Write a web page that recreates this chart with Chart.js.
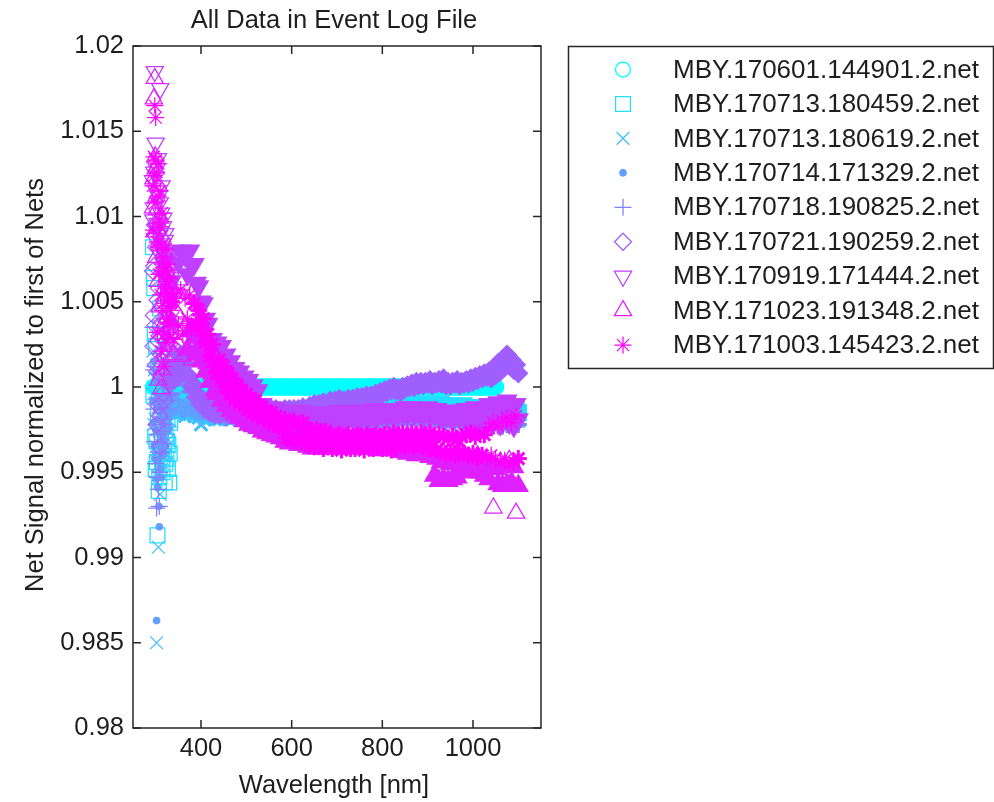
<!DOCTYPE html>
<html><head><meta charset="utf-8">
<script src="https://cdn.jsdelivr.net/npm/chart.js@4.4.1/dist/chart.umd.min.js"></script>
<style>html,body{margin:0;padding:0;background:#fff;}canvas{display:block;}</style>
</head><body>
<canvas id="c" width="994" height="802"></canvas>
<script>
// ---------- DATA ----------
const wavelength = [
294,295,296,297,298,299,300,301,302,303,
304,305,306,307,308,309,310,311,312,313,
314,315,316,317,318,319,320,321,322,323,
324,325,326,327,328,329,330,331,332,333,
335,340,345,350,355,360,365,370,375,380,
385,390,395,400,405,410,415,420,425,430,
435,440,445,450,455,460,465,470,475,480,
485,490,495,500,505,510,515,520,525,530,
535,540,545,550,555,560,565,570,575,580,
585,590,595,600,605,610,615,620,625,630,
635,640,645,650,655,660,665,670,675,680,
685,690,695,700,705,710,715,720,725,730,
735,740,745,750,755,760,765,770,775,780,
785,790,795,800,805,810,815,820,825,830,
835,840,845,850,855,860,865,870,875,880,
885,890,895,900,905,910,915,920,925,930,
935,940,945,950,955,960,965,970,975,980,
985,990,995,1000,1005,1010,1015,1020,1025,1030,
1035,1040,1045,1050,1055,1060,1065,1070,1075,1080,
1085,1090,1095,1100];

const net170601_144901 = [
1,1,1,1,1,1,1,1,1,1, 1,1,1,1,1,1,1,1,1,1,
1,1,1,1,1,1,1,1,1,1, 1,1,1,1,1,1,1,1,1,1,
1,1,1,1,1,1,1,1,1,1, 1,1,1,1,1,1,1,1,1,1,
1,1,1,1,1,1,1,1,1,1, 1,1,1,1,1,1,1,1,1,1,
1,1,1,1,1,1,1,1,1,1, 1,1,1,1,1,1,1,1,1,1,
1,1,1,1,1,1,1,1,1,1, 1,1,1,1,1,1,1,1,1,1,
1,1,1,1,1,1,1,1,1,1, 1,1,1,1,1,1,1,1,1,1,
1,1,1,1,1,1,1,1,1,1, 1,1,1,1,1,1,1,1,1,1,
1,1,1,1,1,1,1,1,1,1, 1,1,1,1,1,1,1,1,1,1,
1,1,1,1];

const net170713_180459 = [
1.0082,0.9995,1.0064,1.0058,1.0031,0.9971,0.9952,1.0024,0.9968,0.9956,
0.9913,0.9985,1.0012,0.9939,0.9947,1.0003,1.0046,0.9961,0.9975,0.9992,
0.9958,0.9950,0.9989,0.9977,0.9962,0.9985,0.9944,0.9955,0.9971,0.9990,
0.9958,0.9968,0.9981,0.9952,0.9966,0.9986,0.9944,0.9961,0.9979,0.9992,
0.9989,0.9994,0.9987,0.9993,0.9988,0.9992,0.9986,0.9991,0.9987,0.9990,
0.9986,0.9989,0.9985,0.9988,0.9984,0.9987,0.9983,0.9986,0.9984,0.9987,
0.9985,0.9983,0.9986,0.9984,0.9985,0.9983,0.9986,0.9984,0.9985,0.9983,
0.9984,0.9986,0.9983,0.9985,0.9984,0.9986,0.9983,0.9985,0.9984,0.9986,
0.9985,0.9983,0.9986,0.9984,0.9985,0.9983,0.9986,0.9984,0.9985,0.9983,
0.9984,0.9986,0.9983,0.9985,0.9984,0.9986,0.9983,0.9985,0.9984,0.9986,
0.9985,0.9983,0.9986,0.9984,0.9985,0.9983,0.9986,0.9984,0.9985,0.9983,
0.9986,0.9984,0.9987,0.9985,0.9986,0.9984,0.9987,0.9985,0.9986,0.9984,
0.9987,0.9985,0.9988,0.9986,0.9987,0.9985,0.9988,0.9986,0.9987,0.9985,
0.9988,0.9986,0.9989,0.9987,0.9988,0.9986,0.9989,0.9987,0.9988,0.9986,
0.9989,0.9987,0.9990,0.9988,0.9989,0.9987,0.9990,0.9988,0.9989,0.9987,
0.9988,0.9990,0.9987,0.9989,0.9988,0.9990,0.9987,0.9989,0.9988,0.9990,
0.9987,0.9989,0.9986,0.9988,0.9987,0.9989,0.9986,0.9988,0.9987,0.9989,
0.9986,0.9988,0.9985,0.9987,0.9986,0.9988,0.9985,0.9987,0.9986,0.9988,
0.9985,0.9988,0.9984,0.9987,0.9985,0.9989,0.9984,0.9987,0.9985,0.9988,
0.9986,0.9984,0.9987,0.9985];

const net170713_180619 = [
1.0021,0.9996,0.9978,1.0010,0.9962,0.9981,1.0005,0.9965,0.9850,0.9975,
0.9948,0.9958,0.9906,0.9993,0.9983,0.9949,0.9937,0.9978,0.9966,0.9952,
0.9991,0.9970,0.9955,0.9984,0.9972,0.9959,0.9988,0.9976,0.9961,0.9989,
0.9979,0.9965,0.9985,0.9981,0.9969,0.9990,0.9992,0.9974,0.9980,0.9986,
0.9986,0.9992,0.9984,0.9990,0.9985,0.9991,0.9983,0.9989,0.9984,0.9988,
0.9983,0.9987,0.9982,0.9978,0.9984,0.9981,0.9986,0.9982,0.9985,0.9981,
0.9984,0.9981,0.9985,0.9982,0.9984,0.9981,0.9983,0.9981,0.9984,0.9982,
0.9983,0.9981,0.9984,0.9982,0.9983,0.9981,0.9984,0.9982,0.9983,0.9981,
0.9982,0.9980,0.9983,0.9981,0.9982,0.9980,0.9983,0.9981,0.9982,0.9980,
0.9981,0.9983,0.9980,0.9982,0.9981,0.9983,0.9980,0.9982,0.9981,0.9983,
0.9982,0.9980,0.9983,0.9981,0.9982,0.9980,0.9983,0.9981,0.9982,0.9980,
0.9981,0.9983,0.9980,0.9982,0.9981,0.9983,0.9980,0.9982,0.9981,0.9983,
0.9982,0.9980,0.9983,0.9981,0.9982,0.9980,0.9983,0.9981,0.9982,0.9980,
0.9983,0.9981,0.9984,0.9982,0.9983,0.9981,0.9984,0.9982,0.9983,0.9981,
0.9984,0.9982,0.9985,0.9983,0.9984,0.9982,0.9985,0.9983,0.9984,0.9982,
0.9983,0.9985,0.9982,0.9984,0.9983,0.9985,0.9982,0.9984,0.9983,0.9985,
0.9982,0.9984,0.9981,0.9983,0.9982,0.9984,0.9981,0.9983,0.9982,0.9984,
0.9981,0.9983,0.9980,0.9982,0.9981,0.9983,0.9980,0.9982,0.9981,0.9983,
0.9980,0.9983,0.9979,0.9982,0.9980,0.9984,0.9979,0.9982,0.9980,0.9983,
0.9981,0.9979,0.9982,0.9980];

const net170714_171329 = [
0.9992,0.9979,1.0015,0.9966,0.9958,1.0004,0.9975,0.9946,0.9863,0.9988,
0.9941,0.9957,0.9967,0.9930,0.9918,0.9973,0.9952,0.9990,0.9981,0.9947,
0.9962,0.9978,0.9993,0.9960,0.9971,0.9987,0.9985,0.9969,0.9966,0.9981,
0.9995,0.9974,0.9978,0.9992,0.9989,0.9976,0.9983,0.9988,0.9996,0.9985,
0.9990,0.9985,0.9993,0.9987,0.9991,0.9984,0.9989,0.9986,0.9990,0.9984,
0.9988,0.9983,0.9987,0.9982,0.9986,0.9983,0.9987,0.9982,0.9986,0.9983,
0.9985,0.9982,0.9986,0.9983,0.9985,0.9982,0.9984,0.9982,0.9985,0.9983,
0.9982,0.9984,0.9981,0.9983,0.9982,0.9984,0.9981,0.9983,0.9982,0.9983,
0.9981,0.9983,0.9980,0.9982,0.9981,0.9983,0.9980,0.9982,0.9981,0.9982,
0.9980,0.9978,0.9981,0.9979,0.9980,0.9978,0.9981,0.9979,0.9980,0.9978,
0.9981,0.9979,0.9980,0.9978,0.9981,0.9979,0.9980,0.9978,0.9981,0.9979,
0.9978,0.9980,0.9979,0.9981,0.9978,0.9980,0.9979,0.9981,0.9978,0.9980,
0.9979,0.9981,0.9978,0.9980,0.9979,0.9981,0.9978,0.9980,0.9979,0.9981,
0.9980,0.9978,0.9981,0.9979,0.9980,0.9978,0.9981,0.9979,0.9980,0.9978,
0.9981,0.9979,0.9982,0.9980,0.9981,0.9979,0.9982,0.9980,0.9981,0.9979,
0.9980,0.9982,0.9979,0.9981,0.9980,0.9982,0.9979,0.9981,0.9980,0.9982,
0.9979,0.9981,0.9978,0.9980,0.9979,0.9981,0.9978,0.9980,0.9979,0.9981,
0.9978,0.9980,0.9977,0.9979,0.9978,0.9980,0.9977,0.9979,0.9978,0.9980,
0.9977,0.9980,0.9976,0.9979,0.9977,0.9980,0.9976,0.9979,0.9977,0.9980,
0.9976,0.9979,0.9977,0.9978];

const net170718_190825 = [
1.0035,1.0010,0.9987,0.9968,1.0012,0.9990,0.9955,0.9978,0.9929,0.9947,
0.9972,0.9993,0.9940,0.9962,0.9930,0.9950,0.9985,0.9972,0.9961,0.9988,
1.0002,0.9967,0.9974,0.9995,0.9996,0.9978,0.9981,1.0004,1.0008,0.9987,
0.9992,1.0006,1.0014,0.9995,1.0003,1.0011,1.0019,1.0001,1.0010,1.0008,
0.9996,1.0006,1.0005,1.0012,1.0006,1.0008,1.0001,1.0003,0.9997,0.9998,
0.9994,0.9997,0.9990,0.9993,0.9987,0.9991,0.9986,0.9989,0.9985,0.9988,
0.9984,0.9987,0.9983,0.9986,0.9982,0.9986,0.9983,0.9985,0.9982,0.9985,
0.9983,0.9985,0.9982,0.9984,0.9981,0.9984,0.9982,0.9983,0.9981,0.9984,
0.9981,0.9979,0.9982,0.9980,0.9981,0.9979,0.9982,0.9980,0.9981,0.9979,
0.9980,0.9982,0.9979,0.9981,0.9980,0.9982,0.9979,0.9981,0.9980,0.9982,
0.9979,0.9981,0.9980,0.9982,0.9979,0.9981,0.9980,0.9982,0.9979,0.9981,
0.9980,0.9982,0.9979,0.9981,0.9980,0.9982,0.9980,0.9981,0.9979,0.9982,
0.9981,0.9979,0.9982,0.9980,0.9981,0.9979,0.9982,0.9980,0.9981,0.9980,
0.9982,0.9980,0.9981,0.9979,0.9982,0.9980,0.9981,0.9979,0.9982,0.9980,
0.9981,0.9983,0.9980,0.9982,0.9981,0.9983,0.9980,0.9982,0.9981,0.9983,
0.9982,0.9980,0.9983,0.9981,0.9982,0.9980,0.9983,0.9981,0.9982,0.9980,
0.9981,0.9979,0.9982,0.9980,0.9981,0.9979,0.9982,0.9980,0.9981,0.9979,
0.9980,0.9978,0.9981,0.9979,0.9980,0.9978,0.9981,0.9979,0.9980,0.9978,
0.9979,0.9981,0.9977,0.9980,0.9978,0.9982,0.9977,0.9980,0.9978,0.9981,
0.9979,0.9977,0.9980,0.9978];

const net170721_190259 = [
1.0068,1.0024,1.0042,1.0071,1.0095,1.0036,1.0013,1.0082,0.9978,1.0009,
1.0051,1.0027,0.9989,1.0058,1.0030,0.9983,0.9965,1.0019,1.0007,1.0047,
1.0038,1.0008,0.9996,1.0029,1.0021,0.9992,1.0004,1.0017,1.0026,1.0035,
1.0011,1.0003,1.0032,1.0022,1.0018,1.0009,1.0025,1.0016,1.0015,1.0007,
1.0004,1.0004,1.0013,1.0013,1.0019,1.0015,1.0014,1.0007,1.0006,1.0000,
1.0001,0.9994,0.9995,0.9990,0.9992,0.9987,0.9990,0.9985,0.9988,0.9984,
0.9988,0.9984,0.9987,0.9985,0.9988,0.9984,0.9986,0.9988,0.9984,0.9987,
0.9985,0.9988,0.9984,0.9987,0.9985,0.9988,0.9984,0.9986,0.9988,0.9985,
0.9987,0.9984,0.9987,0.9985,0.9987,0.9984,0.9987,0.9985,0.9986,0.9985,
0.9987,0.9985,0.9987,0.9985,0.9987,0.9986,0.9987,0.9985,0.9988,0.9986,
0.9987,0.9989,0.9987,0.9990,0.9988,0.9990,0.9988,0.9991,0.9989,0.9990,
0.9992,0.9990,0.9992,0.9991,0.9993,0.9990,0.9992,0.9991,0.9993,0.9991,
0.9993,0.9991,0.9994,0.9992,0.9994,0.9993,0.9995,0.9993,0.9995,0.9994,
0.9996,0.9995,0.9997,0.9996,0.9998,0.9997,0.9999,0.9998,1.0000,0.9998,
0.9999,0.9997,1.0000,0.9999,1.0001,1.0000,1.0002,1.0000,1.0003,1.0001,
1.0003,1.0001,1.0003,1.0002,1.0004,1.0001,1.0003,1.0002,1.0004,1.0002,
1.0005,1.0001,1.0003,1.0001,1.0003,1.0002,1.0004,1.0001,1.0003,1.0002,
1.0004,1.0002,1.0005,1.0003,1.0006,1.0004,1.0007,1.0005,1.0008,1.0006,
1.0009,1.0005,1.0011,1.0007,1.0014,1.0009,1.0016,1.0012,1.0019,1.0014,
1.0016,1.0010,1.0013,1.0008];

const net170919_171444 = [
1.0121,1.0098,1.0105,1.0126,1.0185,1.0087,1.0143,1.0115,1.0128,1.0093,
1.0096,1.0134,1.0112,1.0079,1.0089,1.0108,1.0175,1.0091,1.0102,1.0118,
1.0081,1.0084,1.0094,1.0099,1.0072,1.0077,1.0086,1.0090,1.0078,1.0074,
1.0080,1.0062,1.0066,1.0075,1.0079,1.0058,1.0071,1.0077,1.0080,1.0064,
1.0062,1.0078,1.0055,1.0073,1.0080,1.0057,1.0077,1.0066,1.0080,1.0071,
1.0072,1.0061,1.0059,1.0050,1.0049,1.0040,1.0037,1.0027,1.0028,1.0023,
1.0026,1.0014,1.0024,1.0011,1.0019,1.0006,1.0015,1.0003,1.0011,0.9999,
1.0009,0.9996,1.0006,0.9994,1.0004,0.9992,1.0001,0.9990,0.9998,0.9989,
0.9990,0.9987,0.9988,0.9986,0.9988,0.9985,0.9987,0.9984,0.9986,0.9984,
0.9986,0.9982,0.9985,0.9983,0.9986,0.9982,0.9984,0.9986,0.9982,0.9985,
0.9981,0.9985,0.9983,0.9980,0.9985,0.9982,0.9984,0.9981,0.9985,0.9982,
0.9985,0.9981,0.9984,0.9982,0.9986,0.9981,0.9983,0.9985,0.9981,0.9984,
0.9982,0.9986,0.9983,0.9985,0.9982,0.9986,0.9984,0.9982,0.9986,0.9983,
0.9987,0.9983,0.9986,0.9984,0.9987,0.9983,0.9986,0.9985,0.9983,0.9987,
0.9984,0.9987,0.9985,0.9988,0.9984,0.9986,0.9988,0.9984,0.9987,0.9985,
0.9987,0.9983,0.9986,0.9988,0.9983,0.9986,0.9984,0.9987,0.9983,0.9985,
0.9982,0.9986,0.9983,0.9985,0.9981,0.9986,0.9984,0.9982,0.9986,0.9983,
0.9987,0.9981,0.9985,0.9982,0.9988,0.9981,0.9986,0.9983,0.9987,0.9980,
0.9990,0.9979,0.9987,0.9981,0.9991,0.9978,0.9988,0.9982,0.9992,0.9979,
0.9988,0.9977,0.9990,0.9981];

const net171023_191348 = [
1.0105,1.0122,1.0169,1.0091,1.0181,1.0135,1.0128,1.0076,1.0112,1.0104,
1.0093,1.0062,1.0004,1.0118,1.0085,1.0047,1.0099,1.0083,0.9999,1.0069,
1.0088,1.0010,1.0036,1.0075,1.0079,1.0052,1.0058,1.0018,1.0071,1.0063,
1.0029,1.0041,1.0049,1.0056,1.0066,1.0035,1.0024,1.0050,1.0060,1.0031,
1.0038,1.0019,1.0044,1.0025,1.0040,1.0018,1.0036,1.0022,1.0033,1.0016,
1.0029,1.0019,1.0024,1.0015,1.0020,1.0009,1.0014,1.0003,1.0008,0.9998,
0.9996,1.0002,0.9992,0.9999,0.9989,0.9996,0.9986,0.9993,0.9984,0.9991,
0.9982,0.9988,0.9980,0.9985,0.9978,0.9984,0.9977,0.9982,0.9976,0.9980,
0.9974,0.9979,0.9973,0.9977,0.9972,0.9977,0.9971,0.9976,0.9970,0.9975,
0.9968,0.9973,0.9967,0.9972,0.9968,0.9973,0.9966,0.9971,0.9967,0.9972,
0.9965,0.9970,0.9964,0.9969,0.9964,0.9970,0.9965,0.9969,0.9964,0.9970,
0.9964,0.9969,0.9964,0.9970,0.9965,0.9969,0.9964,0.9970,0.9965,0.9968,
0.9964,0.9969,0.9965,0.9970,0.9964,0.9968,0.9965,0.9969,0.9964,0.9969,
0.9964,0.9968,0.9963,0.9969,0.9964,0.9968,0.9963,0.9969,0.9964,0.9967,
0.9963,0.9968,0.9962,0.9967,0.9961,0.9966,0.9962,0.9967,0.9960,0.9965,
0.9961,0.9966,0.9960,0.9965,0.9959,0.9963,0.9948,0.9958,0.9945,0.9956,
0.9946,0.9957,0.9945,0.9955,0.9946,0.9956,0.9947,0.9958,0.9952,0.9960,
0.9951,0.9958,0.9950,0.9957,0.9952,0.9959,0.9950,0.9956,0.9948,0.9955,
0.9946,0.9955,0.9929,0.9952,0.9943,0.9956,0.9942,0.9954,0.9943,0.9957,
0.9944,0.9953,0.9926,0.9942];

const net171003_145423 = [
1.0118,1.0092,1.0135,1.0124,1.0165,1.0108,1.0158,1.0133,1.0126,1.0085,
1.0032,1.0112,1.0131,1.0066,1.0098,1.0094,1.0115,1.0054,1.0021,1.0083,
1.0102,1.0045,1.0076,1.0070,1.0012,1.0031,1.0068,1.0058,1.0081,1.0026,
1.0040,1.0062,1.0072,1.0037,1.0051,1.0055,1.0064,1.0029,1.0045,1.0048,
1.0050,1.0028,1.0055,1.0036,1.0057,1.0031,1.0052,1.0040,1.0054,1.0035,
1.0049,1.0037,1.0045,1.0033,1.0040,1.0026,1.0031,1.0018,1.0025,1.0012,
1.0008,1.0016,1.0005,1.0012,1.0000,1.0008,0.9996,1.0005,0.9993,1.0001,
0.9991,0.9998,0.9989,0.9996,0.9987,0.9993,0.9985,0.9992,0.9983,0.9989,
0.9988,0.9982,0.9986,0.9980,0.9985,0.9978,0.9983,0.9977,0.9981,0.9976,
0.9981,0.9970,0.9979,0.9969,0.9980,0.9969,0.9978,0.9968,0.9979,0.9969,
0.9975,0.9966,0.9974,0.9965,0.9975,0.9966,0.9973,0.9964,0.9974,0.9965,
0.9972,0.9964,0.9971,0.9965,0.9972,0.9963,0.9970,0.9965,0.9972,0.9964,
0.9971,0.9964,0.9972,0.9965,0.9970,0.9963,0.9972,0.9965,0.9971,0.9964,
0.9972,0.9965,0.9971,0.9964,0.9972,0.9965,0.9971,0.9963,0.9973,0.9965,
0.9972,0.9966,0.9973,0.9965,0.9971,0.9966,0.9973,0.9965,0.9972,0.9967,
0.9973,0.9965,0.9972,0.9964,0.9973,0.9965,0.9971,0.9963,0.9972,0.9962,
0.9971,0.9961,0.9970,0.9962,0.9971,0.9960,0.9969,0.9962,0.9971,0.9961,
0.9972,0.9960,0.9973,0.9961,0.9971,0.9959,0.9973,0.9960,0.9972,0.9959,
0.9976,0.9960,0.9979,0.9958,0.9977,0.9956,0.9980,0.9957,0.9982,0.9955,
0.9979,0.9956,0.9983,0.9958];

const seriesNames = [
  'MBY.170601.144901.2.net','MBY.170713.180459.2.net','MBY.170713.180619.2.net',
  'MBY.170714.171329.2.net','MBY.170718.190825.2.net','MBY.170721.190259.2.net',
  'MBY.170919.171444.2.net','MBY.171023.191348.2.net','MBY.171003.145423.2.net'];
const xTickValues = [400, 600, 800, 1000];
const xTickLabels = ['400', '600', '800', '1000'];
const yTickValues = [0.98, 0.985, 0.99, 0.995, 1, 1.005, 1.01, 1.015, 1.02];
const yTickLabels = ['0.98', '0.985', '0.99', '0.995', '1', '1.005', '1.01', '1.015', '1.02'];
const titleText = 'All Data in Event Log File';
const xTitle = 'Wavelength [nm]';
const yTitle = 'Net Signal normalized to first of Nets';

// ---------- STYLE ----------
const series = [net170601_144901, net170713_180459, net170713_180619, net170714_171329,
  net170718_190825, net170721_190259, net170919_171444, net171023_191348, net171003_145423];
const colors = ['#00FFFF','#20DFFF','#40BFFF','#609FFF','#8080FF','#9F60FF','#BF40FF','#DF20FF','#FF00FF'];
const markers = [
  {style:'circle',   r:7.5, fill:false, rot:0},
  {style:'rect',     r:10.5,fill:false, rot:0},
  {style:'crossRot', r:9,   fill:false, rot:0},
  {style:'circle',   r:3.8, fill:true,  rot:0},
  {style:'cross',    r:8.5, fill:false, rot:0},
  {style:'rectRot',  r:8.5, fill:false, rot:0},
  {style:'triangle', r:10,  fill:false, rot:180},
  {style:'triangle', r:10,  fill:false, rot:0},
  {style:'star',     r:8.5, fill:false, rot:0}
];
const closedStyles = {circle: true, rect: true, rectRot: true, triangle: true};
const FONT = '"Liberation Sans", Arial, Helvetica, sans-serif';
const FS = 25.5;
const TXT = '#1e1e1e';
const BW = 1.25;          // isolated markers
const BW_DENSE = 2.3;     // densely sampled region (markers overlap into solid bands)
const BW_DENSE_LINE = 3;  // line-only markers in the dense region
const DENSE_FROM = 335;

Chart.defaults.font.family = FONT;

// a point belongs to the dense, overlapping band unless it is in the noisy UV spike
// or stands clearly apart from both neighbours
function isDense(i, k) {
  if (wavelength[k] < DENSE_FROM) return false;
  const s = series[i], v = s[k], p = s[k - 1], n = s[k + 1];
  if (p !== undefined && n !== undefined &&
      Math.abs(v - p) > 0.0012 && Math.abs(v - n) > 0.0012) return false;
  return true;
}

function drawMarker(ctx, m, color, x, y) {
  ctx.save();
  ctx.strokeStyle = color;
  ctx.fillStyle = m.fill ? color : 'rgba(0,0,0,0)';
  ctx.lineWidth = m.fill ? 0 : BW;
  if (Chart.helpers && Chart.helpers.drawPoint) {
    Chart.helpers.drawPoint(ctx, {pointStyle: m.style, radius: m.r, rotation: m.rot, borderWidth: m.fill ? 0 : BW}, x, y);
  } else {
    ctx.beginPath(); ctx.arc(x, y, m.r, 0, Math.PI * 2);
    if (m.fill) ctx.fill(); else ctx.stroke();
  }
  ctx.restore();
}

const decor = {
  id: 'decor',
  afterDatasetsDraw(chart) {
    const {ctx, chartArea: a, scales} = chart;
    const x = scales.x, y = scales.y;
    ctx.save();
    ctx.strokeStyle = '#262626';
    ctx.lineWidth = 1.5;
    ctx.strokeRect(a.left, a.top, a.right - a.left, a.bottom - a.top);
    const tl = 8;
    ctx.beginPath();
    xTickValues.forEach(v => {
      const px = x.getPixelForValue(v);
      ctx.moveTo(px, a.bottom); ctx.lineTo(px, a.bottom - tl);
      ctx.moveTo(px, a.top); ctx.lineTo(px, a.top + tl);
    });
    yTickValues.forEach(v => {
      const py = y.getPixelForValue(v);
      ctx.moveTo(a.left, py); ctx.lineTo(a.left + tl, py);
      ctx.moveTo(a.right, py); ctx.lineTo(a.right - tl, py);
    });
    ctx.stroke();
    ctx.restore();
  },
  afterDraw(chart) {
    const {ctx, chartArea: a} = chart;
    ctx.save();
    ctx.fillStyle = TXT;
    ctx.font = FS + 'px ' + FONT;
    ctx.textAlign = 'center';
    ctx.textBaseline = 'alphabetic';
    const cx = (a.left + a.right) / 2 - 3;
    ctx.fillText(titleText, cx, 28);
    ctx.fillText(xTitle, cx, 793);
    ctx.save();
    ctx.translate(42.5, (a.top + a.bottom) / 2 - 2);
    ctx.rotate(-Math.PI / 2);
    ctx.fillText(yTitle, 0, 0);
    ctx.restore();

    // legend
    const lx = 568, ly = 46, lw = 425, lh = 322;
    ctx.fillStyle = '#ffffff';
    ctx.fillRect(lx, ly, lw, lh);
    ctx.strokeStyle = '#262626';
    ctx.lineWidth = 1.5;
    ctx.strokeRect(lx + 0.5, ly + 0.5, lw, lh);
    ctx.textAlign = 'left';
    ctx.textBaseline = 'middle';
    ctx.font = '26px ' + FONT;
    seriesNames.forEach((name, i) => {
      const ry = 69.5 + i * 34.45;
      drawMarker(ctx, markers[i], colors[i], 623, ry);
      ctx.fillStyle = TXT;
      ctx.fillText(name, 673, ry + 1);
    });
    ctx.restore();
  }
};

const datasets = series.map((vals, i) => {
  const m = markers[i];
  const closed = !!closedStyles[m.style];
  return {
    label: seriesNames[i],
    data: vals.map((v, k) => ({x: wavelength[k], y: v})),
    pointStyle: m.style,
    pointRadius: m.r,
    pointRotation: m.rot,
    pointBorderColor: colors[i],
    pointBackgroundColor: c => (m.fill || (closed && isDense(i, c.dataIndex))) ? colors[i] : 'rgba(0,0,0,0)',
    pointBorderWidth: c => m.fill ? 0 : (isDense(i, c.dataIndex) ? (closed ? BW_DENSE : BW_DENSE_LINE) : BW),
    borderColor: colors[i],
    backgroundColor: m.fill ? colors[i] : 'rgba(0,0,0,0)',
    showLine: false,
    order: series.length - 1 - i
  };
});

new Chart(document.getElementById('c'), {
  type: 'scatter',
  data: { datasets },
  options: {
    responsive: false,
    animation: false,
    devicePixelRatio: 1,
    events: [],
    layout: { padding: { left: 0, right: 453, top: 46, bottom: 0 } },
    plugins: { legend: { display: false }, tooltip: { enabled: false }, title: { display: false } },
    scales: {
      x: {
        type: 'linear', min: 250, max: 1150,
        grid: { display: false, drawTicks: false }, border: { display: false },
        afterBuildTicks: s => { s.ticks = xTickValues.map(v => ({value: v})); },
        afterFit: s => { s.height = 74; },
        ticks: { autoSkip: false, maxRotation: 0, padding: 6, color: TXT,
          font: { size: FS, family: FONT }, callback: (v, i) => xTickLabels[i] }
      },
      y: {
        type: 'linear', min: 0.98, max: 1.02,
        grid: { display: false, drawTicks: false }, border: { display: false },
        afterBuildTicks: s => { s.ticks = yTickValues.map(v => ({value: v})); },
        afterFit: s => { s.width = 133; },
        ticks: { autoSkip: false, padding: 9, color: TXT,
          font: { size: FS, family: FONT }, callback: (v, i) => yTickLabels[i] }
      }
    }
  },
  plugins: [decor]
});
</script>
</body></html>
